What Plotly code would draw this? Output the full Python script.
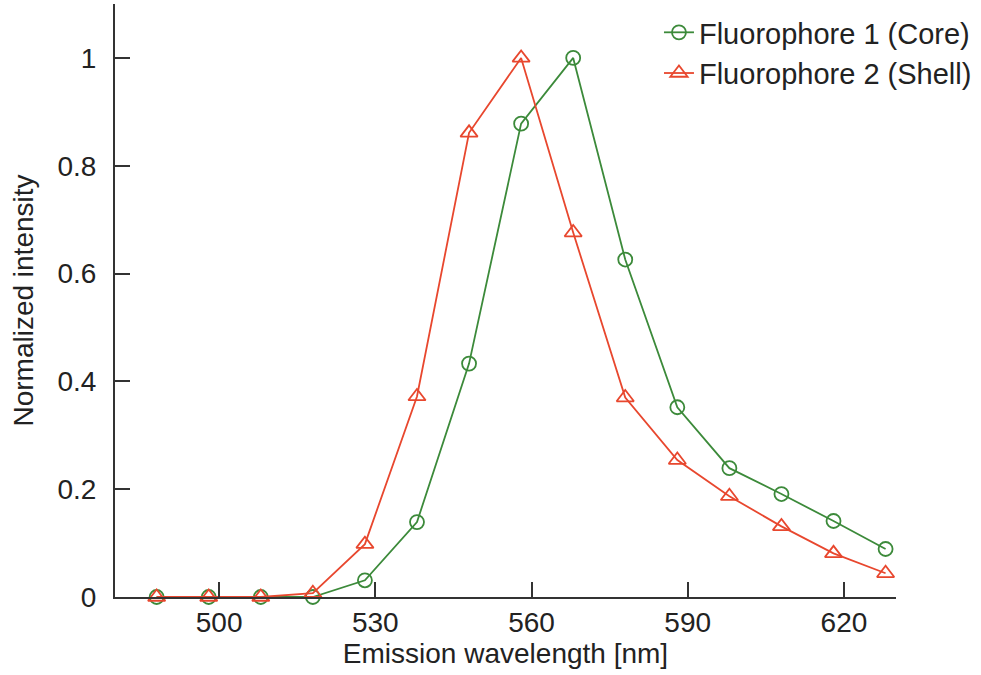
import plotly.graph_objects as go

wavelength = [488, 498, 508, 518, 528, 538, 548, 558, 568, 578, 588, 598, 608, 618, 628]
core = [0.0, 0.0, 0.0, 0.0, 0.031, 0.139, 0.433, 0.878, 1.0, 0.626, 0.352, 0.239, 0.191, 0.141, 0.089]
shell = [0.0, 0.0, 0.0, 0.007, 0.098, 0.372, 0.861, 1.0, 0.676, 0.370, 0.254, 0.187, 0.131, 0.081, 0.044]

x_ticks = [500, 530, 560, 590, 620]
y_ticks = [0, 0.2, 0.4, 0.6, 0.8, 1]
y_ticklabels = ["0", "0.2", "0.4", "0.6", "0.8", "1"]

green = "#3c8a3a"
red = "#e8472e"
font = "Liberation Sans, Arial, sans-serif"

fig = go.Figure()
fig.add_trace(go.Scatter(
    x=wavelength, y=core, name="Fluorophore 1 (Core)", mode="lines+markers",
    line=dict(color=green, width=1.8),
    marker=dict(symbol="circle-open", size=14, color=green, line=dict(width=1.8, color=green)),
    cliponaxis=False,
))
fig.add_trace(go.Scatter(
    x=wavelength, y=shell, name="Fluorophore 2 (Shell)", mode="lines+markers",
    line=dict(color=red, width=1.8),
    marker=dict(symbol="triangle-up-open", size=15, color=red, line=dict(width=1.8, color=red)),
    cliponaxis=False,
))

fig.update_layout(
    width=981, height=675,
    margin=dict(l=115, r=85, t=4, b=78),
    paper_bgcolor="white", plot_bgcolor="white",
    font=dict(family=font, size=29, color="#222"),
    legend=dict(x=0.6965, y=0.995, xanchor="left", yanchor="top",
                bgcolor="rgba(0,0,0,0)", font=dict(size=29, color="#222"),
                tracegroupgap=0),
    showlegend=True,
)
fig.update_xaxes(
    range=[480, 630], tickvals=x_ticks, ticks="inside", ticklen=15, tickwidth=1.5,
    tickcolor="#333", showline=True, linecolor="#333", linewidth=1.5,
    showgrid=False, zeroline=False, mirror=False,
    title=dict(text="Emission wavelength [nm]", standoff=6, font=dict(size=28)),
    tickfont=dict(size=28),
)
fig.update_yaxes(
    range=[0, 1.1], tickvals=y_ticks, ticktext=[t + "\u2009\u2009" for t in y_ticklabels],
    ticks="inside", ticklen=15,
    tickwidth=1.5, tickcolor="#333", showline=True, linecolor="#333", linewidth=1.5,
    showgrid=False, zeroline=False, mirror=False,
    title=dict(text="Normalized intensity", standoff=16, font=dict(size=28)),
    tickfont=dict(size=28),
)

fig.write_html("out.html")
